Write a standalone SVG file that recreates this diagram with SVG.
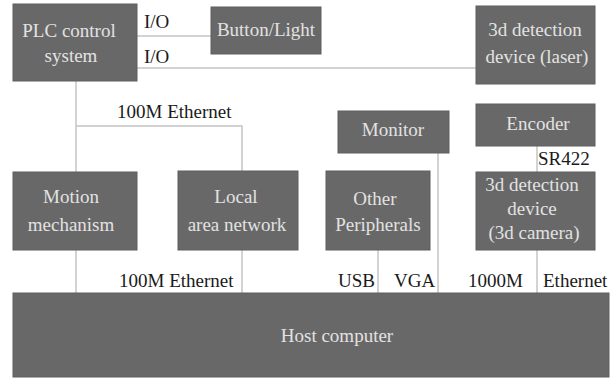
<svg xmlns="http://www.w3.org/2000/svg" width="613" height="378" viewBox="0 0 613 378">
  <style>
    .box { fill: #686868; stroke: #5e5e5e; stroke-width: 1; }
    .bt { font-family: 'Liberation Serif', 'Times New Roman', Times, serif; font-size: 19px; fill: #e2e2e2; text-anchor: middle; }
    .lbl { font-family: 'Liberation Serif', 'Times New Roman', Times, serif; font-size: 19px; fill: #1a1a1a; }
    .wire { fill: none; stroke: #c4c4c4; stroke-width: 1.5; }
  </style>
  <rect width="613" height="378" fill="#ffffff"/>

  <!-- connectors -->
  <g id="connectors">
    <path class="wire" d="M137 36 H211"/>
    <path class="wire" d="M137 68 H476"/>
    <path class="wire" d="M76 81 V293"/>
    <path class="wire" d="M76 126 H242 V171"/>
    <path class="wire" d="M242 250 V293"/>
    <path class="wire" d="M378 250 V293"/>
    <path class="wire" d="M438 153 V293"/>
    <path class="wire" d="M537 146 V172"/>
    <path class="wire" d="M537 250 V293"/>
    <text class="lbl" x="144" y="28">I/O</text>
    <text class="lbl" x="144" y="63">I/O</text>
    <text class="lbl" x="117" y="118">100M Ethernet</text>
    <text class="lbl" x="119" y="287">100M Ethernet</text>
    <text class="lbl" x="338" y="287">USB</text>
    <text class="lbl" x="394" y="287">VGA</text>
    <text class="lbl" x="468" y="287">1000M</text>
    <text class="lbl" x="543" y="287">Ethernet</text>
    <text class="lbl" x="538" y="165">SR422</text>
  </g>

  <g id="plc">
    <rect class="box" x="13" y="4" width="124" height="77"/>
    <text class="bt" x="69" y="37">PLC control</text>
    <text class="bt" x="71" y="62">system</text>
  </g>
  <g id="button-light">
    <rect class="box" x="211" y="7" width="110" height="47"/>
    <text class="bt" x="266" y="36">Button/Light</text>
  </g>
  <g id="laser">
    <rect class="box" x="476" y="6" width="119" height="78"/>
    <text class="bt" x="535" y="36">3d detection</text>
    <text class="bt" x="537" y="63">device (laser)</text>
  </g>
  <g id="monitor">
    <rect class="box" x="338" y="111" width="111" height="42"/>
    <text class="bt" x="393" y="136">Monitor</text>
  </g>
  <g id="encoder">
    <rect class="box" x="476" y="104" width="119" height="42"/>
    <text class="bt" x="538" y="130">Encoder</text>
  </g>
  <g id="motion">
    <rect class="box" x="13" y="172" width="124" height="78"/>
    <text class="bt" x="71" y="203">Motion</text>
    <text class="bt" x="71" y="231">mechanism</text>
  </g>
  <g id="lan">
    <rect class="box" x="178" y="171" width="120" height="79"/>
    <text class="bt" x="236" y="203">Local</text>
    <text class="bt" x="237" y="231">area network</text>
  </g>
  <g id="peripherals">
    <rect class="box" x="326" y="171" width="104" height="79"/>
    <text class="bt" x="375" y="205">Other</text>
    <text class="bt" x="378" y="231">Peripherals</text>
  </g>
  <g id="camera">
    <rect class="box" x="476" y="172" width="119" height="78"/>
    <text class="bt" x="532" y="191">3d detection</text>
    <text class="bt" x="532" y="215">device</text>
    <text class="bt" x="534" y="239">(3d camera)</text>
  </g>
  <g id="host">
    <rect class="box" x="13" y="293" width="596" height="84"/>
    <text class="bt" x="337" y="342">Host computer</text>
  </g>
</svg>
